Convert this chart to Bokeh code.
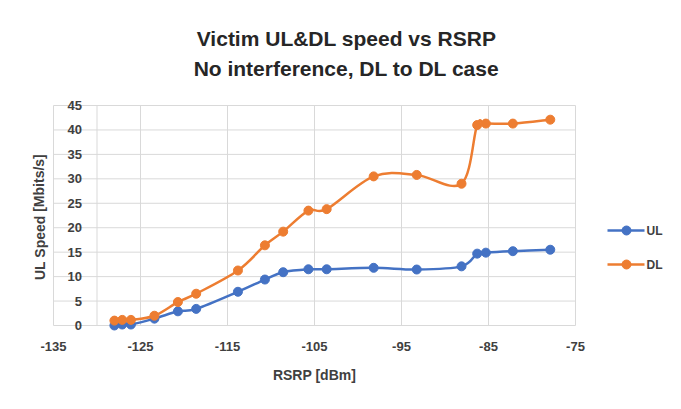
from bokeh.plotting import figure
from bokeh.models import Range1d, ColumnDataSource
from bokeh.core.properties import value
from bokeh.embed import file_html
from bokeh.resources import INLINE

# ---- data ----
rsrp = [-128.0, -127.1, -126.1, -123.4, -120.7, -118.6, -113.8, -110.7, -108.6,
        -105.7, -103.6, -98.2, -93.25, -88.1, -86.3, -85.3, -82.2, -77.9]
ul_speed = [0.0, 0.2, 0.2, 1.4, 2.9, 3.4, 6.9, 9.4, 10.9,
            11.5, 11.5, 11.8, 11.45, 12.1, 14.7, 14.9, 15.2, 15.5]
dl_speed = [1.0, 1.15, 1.15, 2.0, 4.8, 6.5, 11.25, 16.4, 19.2,
            23.5, 23.8, 30.5, 30.8, 29.0, 41.0, 41.3, 41.3, 42.1]
x_ticks = [-135, -125, -115, -105, -95, -85, -75]
y_ticks = [0, 5, 10, 15, 20, 25, 30, 35, 40, 45]
series_names = ["UL", "DL"]
title_lines = ["Victim UL&DL speed vs RSRP", "No interference, DL to DL case"]
x_label = "RSRP [dBm]"
y_label = "UL Speed [Mbits/s]"
y_axis_cross = -130

UL_COLOR = "#4472C4"
DL_COLOR = "#ED7D31"
GRID = "#d9d9d9"
TXT = "#404040"
FONT = "Liberation Sans"

W, H = 665, 393
# plot-area layout: x=-135 at px 53, 8.7 px per unit; y=0 at px 325, 220/45 px per unit
XS = 522 / 60.0
YS = 220 / 45.0
x_start = x_ticks[0] - 53 / XS
x_end = x_ticks[0] + (W - 53) / XS
y_end = 325 / YS
y_start = -(H - 325) / YS

def px_x(px):
    return x_start + px / XS

def px_y(py):
    return (325 - py) / YS

p = figure(width=W, height=H, output_backend="svg", toolbar_location=None,
           x_range=Range1d(x_start, x_end), y_range=Range1d(y_start, y_end),
           min_border_left=0, min_border_right=0, min_border_top=0, min_border_bottom=0)
p.outline_line_color = None
p.background_fill_color = "white"
p.border_fill_color = "white"
p.xgrid.visible = False
p.ygrid.visible = False
p.xaxis.visible = False
p.yaxis.visible = False

# grid lines of the plot area
p.segment(x0=x_ticks, y0=[y_ticks[0]] * len(x_ticks), x1=x_ticks, y1=[y_ticks[-1]] * len(x_ticks),
          line_color=GRID, line_width=1)
p.segment(x0=[x_ticks[0]] * len(y_ticks), y0=y_ticks, x1=[x_ticks[-1]] * len(y_ticks), y1=y_ticks,
          line_color=GRID, line_width=1)
# vertical axis crossing at -130
p.segment(x0=[y_axis_cross], y0=[y_ticks[0]], x1=[y_axis_cross], y1=[y_ticks[-1]],
          line_color=GRID, line_width=1)

# y tick labels
p.text(x=[y_axis_cross] * len(y_ticks), y=y_ticks, text=[str(t) for t in y_ticks],
       x_offset=-15, text_align="right", text_baseline="middle",
       text_font=value(FONT), text_font_size="13px", text_font_style="bold", text_color=TXT)
# x tick labels
p.text(x=x_ticks, y=[px_y(346)] * len(x_ticks), text=[str(t) for t in x_ticks],
       text_align="center", text_baseline="middle",
       text_font=value(FONT), text_font_size="13px", text_font_style="bold", text_color=TXT)

# axis titles
p.text(x=[px_x(314)], y=[px_y(374)], text=[x_label], text_align="center",
       text_baseline="middle", text_font=value(FONT), text_font_size="14px",
       text_font_style="bold", text_color=TXT)
p.text(x=[px_x(39)], y=[px_y(216.5)], text=[y_label], angle=1.5708, text_align="center",
       text_baseline="middle", text_font=value(FONT), text_font_size="14px",
       text_font_style="bold", text_color=TXT)

# chart title
p.text(x=[px_x(346)] * 2, y=[px_y(38.4), px_y(67.5)], text=title_lines, text_align="center",
       text_baseline="middle", text_font=value(FONT), text_font_size="21px",
       text_font_style="bold", text_color="#262626")

# smoothed curves via bezier segments (Catmull-Rom control points)
def bezier_source(xs, ys):
    n = len(xs)
    d = dict(x0=[], y0=[], x1=[], y1=[], cx0=[], cy0=[], cx1=[], cy1=[])
    for i in range(n - 1):
        p0 = (xs[i - 1], ys[i - 1]) if i > 0 else (xs[i], ys[i])
        p1 = (xs[i], ys[i])
        p2 = (xs[i + 1], ys[i + 1])
        p3 = (xs[i + 2], ys[i + 2]) if i + 2 < n else (xs[i + 1], ys[i + 1])
        d["x0"].append(p1[0]); d["y0"].append(p1[1])
        d["x1"].append(p2[0]); d["y1"].append(p2[1])
        d["cx0"].append(p1[0] + (p2[0] - p0[0]) / 6); d["cy0"].append(p1[1] + (p2[1] - p0[1]) / 6)
        d["cx1"].append(p2[0] - (p3[0] - p1[0]) / 6); d["cy1"].append(p2[1] - (p3[1] - p1[1]) / 6)
    return ColumnDataSource(d)

legend_y = [230, 264]
for k, (name, ys, col) in enumerate([(series_names[0], ul_speed, UL_COLOR),
                                      (series_names[1], dl_speed, DL_COLOR)]):
    p.bezier(x0="x0", y0="y0", x1="x1", y1="y1", cx0="cx0", cy0="cy0", cx1="cx1", cy1="cy1",
             source=bezier_source(rsrp, ys), line_color=col, line_width=2.5)
    p.scatter(rsrp, ys, size=9, fill_color=col, line_color=col)
    # legend entry
    ly = px_y(legend_y[k])
    p.segment(x0=[px_x(607)], y0=[ly], x1=[px_x(644)], y1=[ly], line_color=col, line_width=2.5)
    p.scatter([px_x(626)], [ly], size=9, fill_color=col, line_color=col)
    p.text(x=[px_x(646)], y=[ly], text=[name], text_align="left", text_baseline="middle",
           text_font=value(FONT), text_font_size="12px", text_font_style="bold", text_color=TXT)

open("out.html", "w").write(file_html(p, INLINE))
